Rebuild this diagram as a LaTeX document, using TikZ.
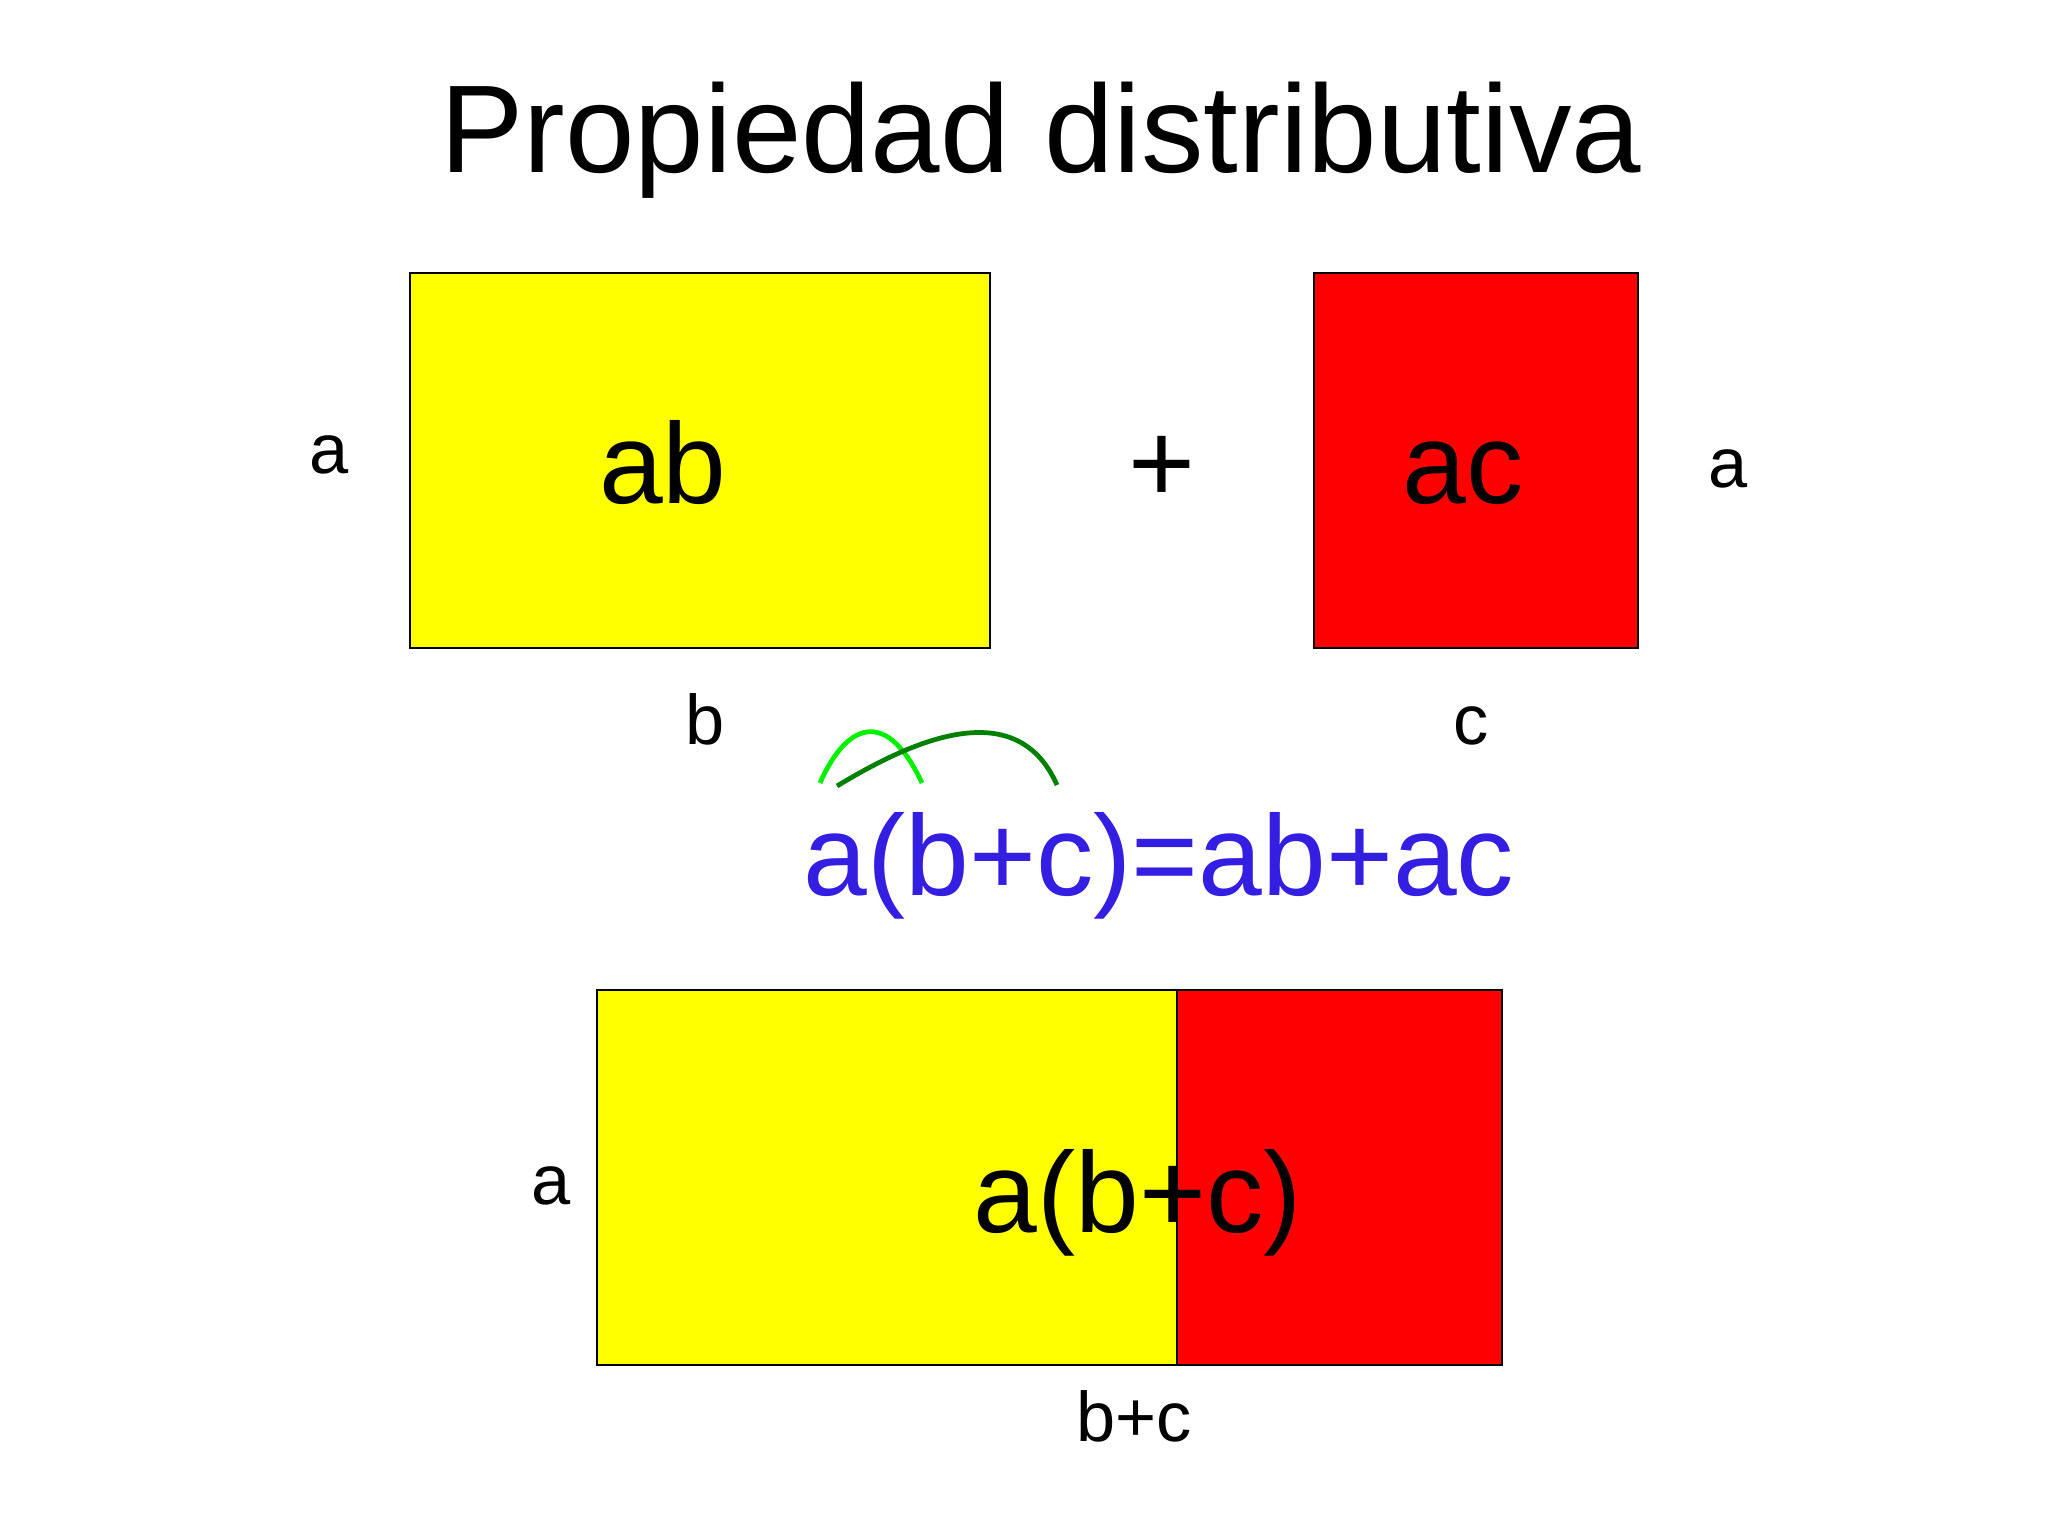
\documentclass[tikz,border=0pt]{standalone}
\usepackage{fontspec}
\setmainfont{Liberation Sans}
\definecolor{eqblue}{RGB}{51,30,225}
\definecolor{lgreen}{RGB}{0,240,0}
\definecolor{dgreen}{RGB}{0,128,0}
\definecolor{yel}{RGB}{255,255,0}
\definecolor{rd}{RGB}{255,0,0}
\tikzset{
  box/.style={draw=black,line width=0.6pt},
  big/.style={font=\fontsize{32.6}{36}\selectfont,inner sep=0pt,anchor=base},
  lbl/.style={font=\fontsize{20}{24}\selectfont,inner sep=0pt,anchor=base},
  arc/.style={line width=1.35pt}
}
\begin{document}
\begin{tikzpicture}[x=0.01cm,y=-0.01cm]
\useasboundingbox (0,0) rectangle (2048,1536);
\node[font=\fontsize{35.5}{40}\selectfont,inner sep=0pt,anchor=base] (title) at (1041,172) {Propiedad distributiva};
% top rectangles
\filldraw[box,fill=yel] (410,273) rectangle (990,648);
\filldraw[box,fill=rd] (1314,273) rectangle (1638,648);
\node[big] (ab) at (663,503) {ab};
\node[big] (ac) at (1463,503) {ac};
\node[big] (plus) at (1162,502) {+};
\node[lbl] (la1) at (329,473) {a};
\node[lbl] (la2) at (1728,487) {a};
\node[lbl] (lb) at (705,744) {b};
\node[lbl] (lc) at (1471,744) {c};
% equation
\node[big,text=eqblue] (eq) at (1159,895) {a(b+c)=ab+ac};
\draw[arc,draw=lgreen] (820,783) .. controls (845,726) and (885,704) .. (922,783);
\draw[arc,draw=dgreen] (837,786) .. controls (905,745) and (1015,690) .. (1057,785);
% bottom rectangle
\filldraw[box,fill=yel] (597,990) rectangle (1177,1365);
\filldraw[box,fill=rd] (1177,990) rectangle (1502,1365);
\node[big] (abc) at (1138,1232) {a(b+c)};
\node[lbl] (la3) at (551,1204) {a};
\node[lbl] (lbc) at (1134,1441) {b+c};
\end{tikzpicture}
\end{document}
